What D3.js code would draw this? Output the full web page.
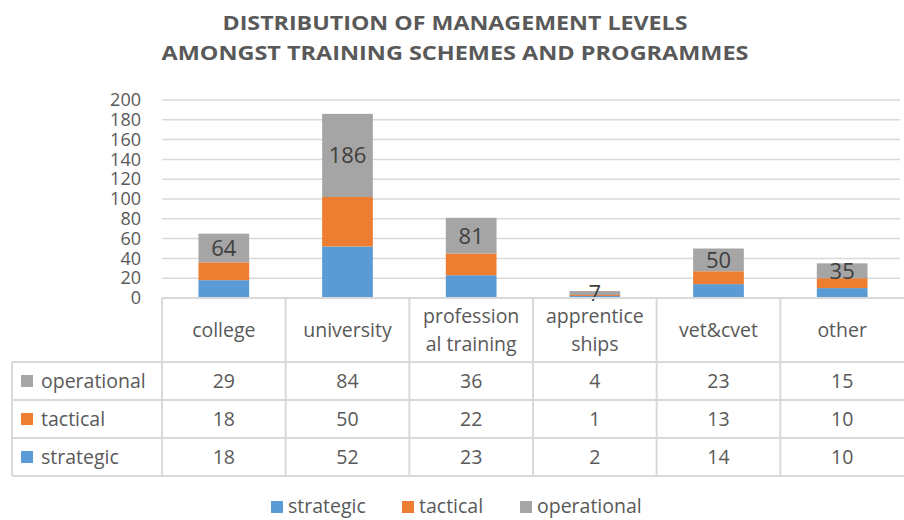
<!DOCTYPE html>
<html>
<head>
<meta charset="utf-8">
<script src="https://cdn.jsdelivr.net/npm/d3@7"></script>
<style>
  body { margin: 0; background: #fff; }
  svg { display: block; font-family: "Open Sans", Lato, sans-serif; }
</style>
</head>
<body>
<div id="chart"></div>
<script>
(function() {
    'use strict';

    // data
    var categories = ['college', 'university', 'professional training', 'apprenticeships', 'vet&cvet', 'other'];
    var categoryLines = [['college'], ['university'], ['profession', 'al training'], ['apprentice', 'ships'], ['vet&cvet'], ['other']];
    var strategic = [18, 52, 23, 2, 14, 10];
    var tactical = [18, 50, 22, 1, 13, 10];
    var operational = [29, 84, 36, 4, 23, 15];
    var totalLabels = [64, 186, 81, 7, 50, 35];
    var yTicks = [0, 20, 40, 60, 80, 100, 120, 140, 160, 180, 200];
    var seriesNames = ['strategic', 'tactical', 'operational'];
    var seriesColors = ['#5b9bd5', '#ed7d31', '#a5a5a5'];
    var titleLines = ['DISTRIBUTION OF MANAGEMENT LEVELS', 'AMONGST TRAINING SCHEMES AND PROGRAMMES'];

    var fullWidth = 904, fullHeight = 520;
    var area = { left: 162, right: 904, top: 100, bottom: 298 };
    var rowH = 38, headerH = 64, legendColLeft = 12;
    var textColor = '#595959', gridColor = '#d9d9d9';
    var fontSize = '19.5px';

    var svg = d3.select('#chart').append('svg')
      .attr('width', fullWidth)
      .attr('height', fullHeight);

    // title
    var titleWidths = [465, 587];
    svg.append('g')
      .selectAll('text')
      .data(titleLines)
      .enter().append('text')
        .attr('x', function(d, i) { return 455 - titleWidths[i] / 2; })
        .attr('y', function(d, i) { return 30 + i * 30; })
        .attr('fill', textColor)
        .attr('font-weight', 'bold')
        .attr('font-size', '20px')
        .attr('textLength', function(d, i) { return titleWidths[i]; })
        .attr('lengthAdjust', 'spacingAndGlyphs')
        .text(function(d) { return d; });

    var x = d3.scaleBand()
      .domain(categories)
      .range([area.left, area.right])
      .padding(0);

    var y = d3.scaleLinear()
      .domain([0, 200])
      .range([area.bottom, area.top]);

    // grid
    svg.append('g')
      .selectAll('line')
      .data(yTicks.slice(1))
      .enter().append('line')
        .attr('x1', area.left)
        .attr('x2', area.right - 4)
        .attr('y1', function(d) { return y(d); })
        .attr('y2', function(d) { return y(d); })
        .attr('stroke', gridColor)
        .attr('stroke-width', 1.5);

    // y axis
    var yAxis = d3.axisLeft(y).tickValues(yTicks).tickSize(0).tickPadding(0);
    var yg = svg.append('g')
      .attr('transform', 'translate(141,0)')
      .call(yAxis);
    yg.select('.domain').remove();
    yg.selectAll('text')
      .attr('fill', textColor)
      .attr('font-size', '18px')
      .attr('font-family', '"Open Sans", sans-serif');

    // stacked bars
    var rows = categories.map(function(c, i) {
        return { cat: c, strategic: strategic[i], tactical: tactical[i], operational: operational[i] };
    });
    var stack = d3.stack().keys(seriesNames)(rows);
    var barW = x.bandwidth() * 0.41;

    svg.append('g')
      .selectAll('g')
      .data(stack)
      .enter().append('g')
        .attr('fill', function(d, i) { return seriesColors[i]; })
      .selectAll('rect')
      .data(function(d) { return d; })
      .enter().append('rect')
        .attr('x', function(d) { return x(d.data.cat) + (x.bandwidth() - barW) / 2; })
        .attr('width', barW)
        .attr('y', function(d) { return y(d[1]); })
        .attr('height', function(d) { return y(d[0]) - y(d[1]); });

    // labels in top segment
    svg.append('g')
      .selectAll('text')
      .data(stack[2])
      .enter().append('text')
        .attr('x', function(d) { return x(d.data.cat) + x.bandwidth() / 2; })
        .attr('y', function(d) { return (y(d[0]) + y(d[1])) / 2; })
        .attr('dy', '0.36em')
        .attr('text-anchor', 'middle')
        .attr('fill', '#404040')
        .attr('font-size', '22px')
        .text(function(d, i) { return totalLabels[i]; });

    // data table
    var table = svg.append('g')
      .attr('stroke', gridColor)
      .attr('stroke-width', 2)
      .attr('fill', 'none');
    var tableTop = area.bottom;
    var bodyTop = tableTop + headerH;
    var tableBottom = bodyTop + rowH * 3;

    // horizontal lines
    table.append('line').attr('x1', area.left).attr('x2', fullWidth).attr('y1', tableTop).attr('y2', tableTop);
    [0, 1, 2, 3].forEach(function(r) {
        table.append('line')
          .attr('x1', legendColLeft).attr('x2', fullWidth)
          .attr('y1', bodyTop + r * rowH).attr('y2', bodyTop + r * rowH);
    });
    // vertical lines
    categories.forEach(function(c) {
        table.append('line')
          .attr('x1', x(c)).attr('x2', x(c))
          .attr('y1', tableTop).attr('y2', tableBottom);
    });
    table.append('line').attr('x1', legendColLeft).attr('x2', legendColLeft)
      .attr('y1', bodyTop).attr('y2', tableBottom);

    // header text
    var header = svg.append('g')
      .attr('fill', textColor)
      .attr('font-size', fontSize)
      .attr('text-anchor', 'middle');
    categories.forEach(function(c, i) {
        var lines = categoryLines[i];
        var cy = tableTop + headerH / 2;
        lines.forEach(function(l, j) {
            header.append('text')
              .attr('x', x(c) + x.bandwidth() / 2)
              .attr('y', cy + (j - (lines.length - 1) / 2) * 28)
              .attr('dy', '0.36em')
              .text(l);
        });
    });

    // body rows: operational, tactical, strategic
    var order = [2, 1, 0];
    var seriesValues = [strategic, tactical, operational];
    order.forEach(function(s, r) {
        var cy = bodyTop + r * rowH + rowH / 2;
        svg.append('rect')
          .attr('x', 21).attr('y', cy - 6)
          .attr('width', 12).attr('height', 12)
          .attr('fill', seriesColors[s]);
        svg.append('text')
          .attr('x', 41).attr('y', cy).attr('dy', '0.36em')
          .attr('fill', textColor).attr('font-size', fontSize)
          .text(seriesNames[s]);
        svg.append('g')
          .selectAll('text')
          .data(seriesValues[s])
          .enter().append('text')
            .attr('x', function(d, i) { return x(categories[i]) + x.bandwidth() / 2; })
            .attr('y', cy).attr('dy', '0.36em')
            .attr('text-anchor', 'middle')
            .attr('fill', textColor).attr('font-size', fontSize)
            .text(function(d) { return d; });
    });

    // legend
    var legendX = [271, 402, 520];
    var legend = svg.append('g');
    seriesNames.forEach(function(n, i) {
        legend.append('rect')
          .attr('x', legendX[i]).attr('y', 501)
          .attr('width', 12).attr('height', 12)
          .attr('fill', seriesColors[i]);
        legend.append('text')
          .attr('x', legendX[i] + 17).attr('y', 506).attr('dy', '0.36em')
          .attr('fill', textColor).attr('font-size', fontSize)
          .text(n);
    });
})();
</script>
</body>
</html>
